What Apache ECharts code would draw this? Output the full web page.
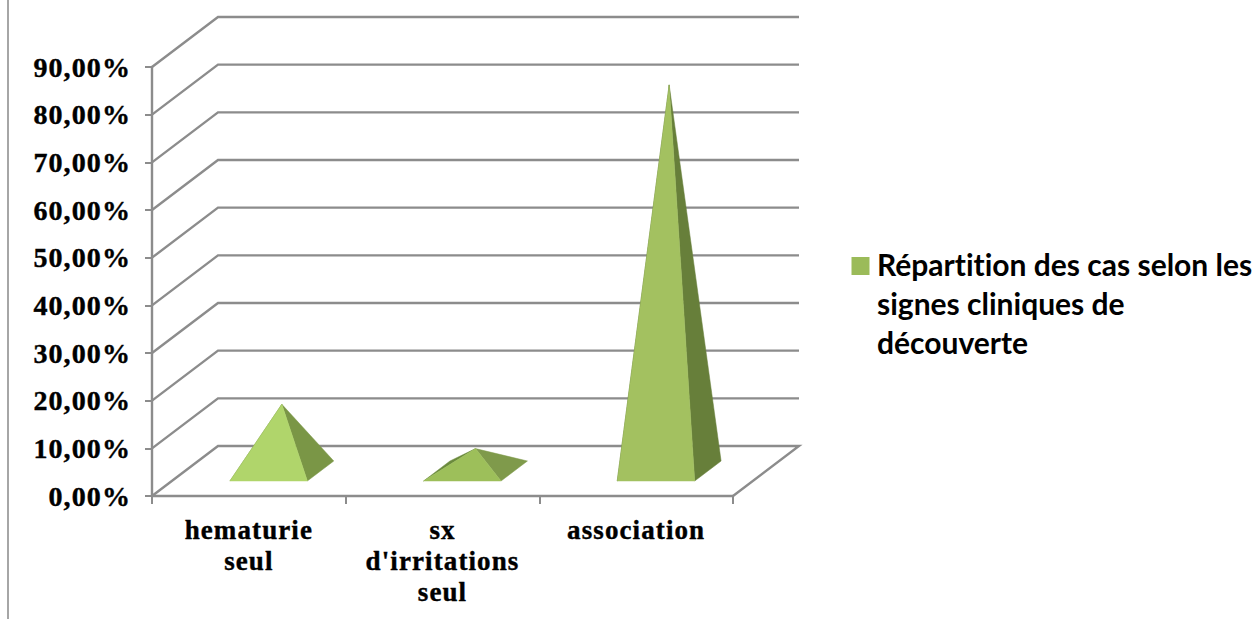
<!DOCTYPE html>
<html>
<head>
<meta charset="utf-8">
<style>
html,body{margin:0;padding:0;background:#fff}
#chart{width:1258px;height:619px}
#chart text{font-variant-ligatures:none !important}
#chart text[style*="Liberation"]{letter-spacing:1.1px}
</style>
<script src="https://cdn.jsdelivr.net/npm/echarts@6/dist/echarts.min.js"></script>
</head>
<body>
<div id="chart"></div>
<script>
// Clinical presentation at discovery, share of cases per category
const categories = ['hematurie\nseul', "sx\nd'irritations\nseul", 'association'];
const shares = [14, 4.7, 81];
const yTicks = [0, 10, 20, 30, 40, 50, 60, 70, 80, 90];
const seriesName = 'Répartition des cas selon les signes cliniques de découverte';
const legendLines = ['Répartition des cas selon les', 'signes cliniques de', 'découverte'];

// Face shades of each pyramid
const frontShades = ['#b0d56b', '#9dbf5a', '#a3c160'];
const sideShades = ['#7a9646', '#7f9a4b', '#677f3a'];
const rearShades = ['#6b8a3d', '#6b8a3d', '#5c7433'];

// Oblique projection of the chart's depth axis, in pixels
const DEPTH_X = 66;
const DEPTH_Y = -50;
const GRID_COLOR = '#8c8c8c';
const baseShare = 0.4;       // pyramid base width relative to the category band
const depthNear = 0.3;       // front edge of the base along the depth axis
const depthFar = 0.7;        // rear edge of the base along the depth axis

function project(x, y, depth) {
  return [x + DEPTH_X * depth, y + DEPTH_Y * depth];
}

// Back wall and floor outline: one bent line per tick value
function renderWall(params, api) {
  const rect = params.coordSys;
  const value = api.value(1);
  const y = api.coord([0, value])[1];
  const left = rect.x;
  const right = rect.x + rect.width;
  const points = [[left, y], project(left, y, 1), project(right, y, 1)];
  if (value === 0) points.push([right, y]);
  return {
    type: 'polyline',
    silent: true,
    shape: { points },
    style: { stroke: GRID_COLOR, lineWidth: 2.4, fill: null }
  };
}

// Square pyramid seated on the floor, mid-way along the depth axis
function renderPyramid(params, api) {
  const i = params.dataIndex;
  const centre = api.coord([api.value(0), 0]);
  const top = api.coord([api.value(0), api.value(1)]);
  const half = api.size([1, 0])[0] * baseShare / 2;
  const floorY = centre[1];
  const frontL = project(centre[0] - half, floorY, depthNear);
  const frontR = project(centre[0] + half, floorY, depthNear);
  const backL = project(centre[0] - half, floorY, depthFar);
  const backR = project(centre[0] + half, floorY, depthFar);
  const apex = project(top[0], top[1], 0.5);
  const face = (points, fill) => ({
    type: 'polygon',
    silent: true,
    shape: { points },
    style: { fill, stroke: fill, lineWidth: 0.5 }
  });
  return {
    type: 'group',
    children: [
      face([backL, frontL, apex], rearShades[i]),
      face([frontR, backR, apex], sideShades[i]),
      face([frontL, frontR, apex], frontShades[i])
    ]
  };
}

const chart = echarts.init(document.getElementById('chart'), null, { renderer: 'svg' });
chart.setOption({
  animation: false,
  backgroundColor: '#fff',
  grid: { left: 152, right: 525, top: 67, bottom: 123 },
  graphic: [{
    type: 'line',
    silent: true,
    shape: { x1: 8, y1: 0, x2: 8, y2: 619 },
    style: { stroke: '#a6a6a6', lineWidth: 2 }
  }],
  legend: {
    data: [seriesName],
    left: 851.5,
    top: 170.5,
    padding: 0,
    orient: 'vertical',
    selectedMode: false,
    icon: 'path://M0 0H18V18H0Z',
    itemWidth: 23,
    itemHeight: 18,
    itemGap: 0,
    // Blank spacer lines keep the swatch level with the first line of text
    formatter: () => '{gap|\u00a0}\n{gap|\u00a0}\n' + legendLines.join('\n'),
    textStyle: {
      fontFamily: 'Lato',
      fontWeight: 'bold',
      fontSize: 30,
      lineHeight: 39,
      color: '#000',
      rich: { gap: { lineHeight: 37 } }
    }
  },
  xAxis: {
    type: 'category',
    data: categories,
    boundaryGap: true,
    axisLine: { lineStyle: { color: GRID_COLOR, width: 2.4 } },
    axisTick: { show: true, alignWithLabel: false, length: 8, lineStyle: { color: GRID_COLOR, width: 2 } },
    axisLabel: {
      interval: 0,
      margin: 18,
      fontFamily: 'Liberation Serif',
      fontWeight: 'bold',
      fontSize: 27,
      lineHeight: 31,
      color: '#000',
      textBorderColor: '#000',
      textBorderWidth: 0.4
    },
    splitLine: { show: false }
  },
  yAxis: {
    type: 'value',
    min: 0,
    max: 90,
    interval: 10,
    axisLine: { show: true, lineStyle: { color: GRID_COLOR, width: 2.4 } },
    axisTick: { show: true, length: 7, lineStyle: { color: GRID_COLOR, width: 2 } },
    axisLabel: {
      margin: 21,
      padding: [10, 0, 0, 0],
      fontFamily: 'Liberation Serif',
      fontWeight: 'bold',
      fontSize: 28,
      color: '#000',
      textBorderColor: '#000',
      textBorderWidth: 0.4,
      formatter: v => v.toFixed(2).replace('.', ',') + '%'
    },
    splitLine: { show: false }
  },
  series: [
    {
      type: 'custom',
      name: 'wall',
      z: 1,
      silent: true,
      clip: false,
      renderItem: renderWall,
      data: yTicks.map(v => [0, v]),
      encode: { x: 0, y: 1 }
    },
    {
      type: 'custom',
      name: seriesName,
      z: 3,
      silent: true,
      clip: false,
      itemStyle: { color: '#9bbb59' },
      renderItem: renderPyramid,
      data: shares.map((v, i) => [i, v]),
      encode: { x: 0, y: 1 }
    }
  ]
});
</script>
</body>
</html>
